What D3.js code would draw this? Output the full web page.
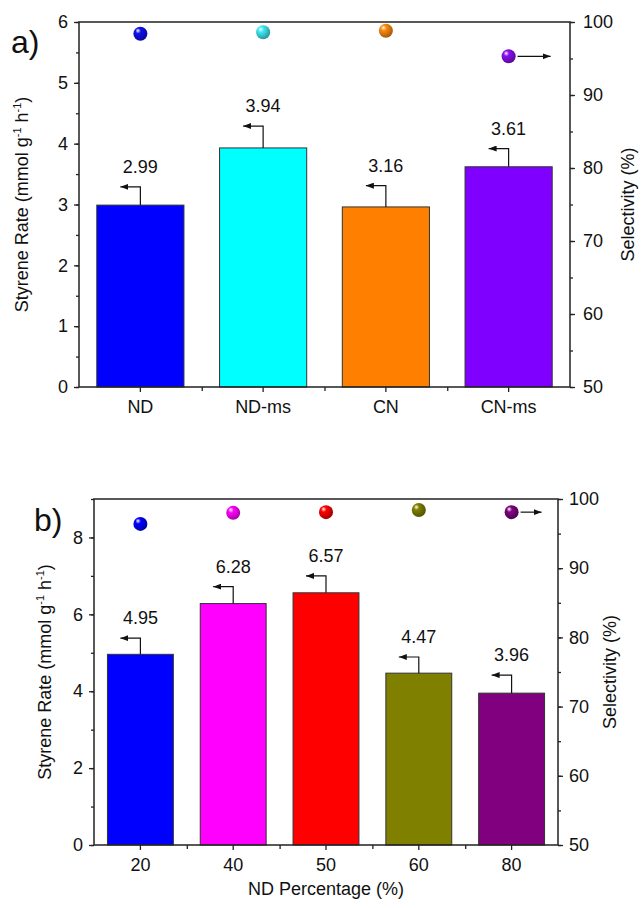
<!DOCTYPE html>
<html>
<head>
<meta charset="utf-8">
<script src="https://cdn.jsdelivr.net/npm/d3@7"></script>
<style>
  body{margin:0;background:#fff}
  text{font-family:"Liberation Sans",Arial,sans-serif;fill:#111}
</style>
</head>
<body>
<script>
// panel a data
const catsA = ["ND","ND-ms","CN","CN-ms"];
const rateA = [2.99, 3.93, 2.96, 3.62];
const rateLabelsA = ["2.99","3.94","3.16","3.61"];
const errA = [0.30, 0.36, 0.35, 0.30];
const selA = [98.4, 98.6, 98.8, 95.3];
const colorsA = ["#0000ff","#00ffff","#ff8000","#8000ff"];
const dotColorsA = ["#1010f0","#40eaf5","#ff8a10","#8a10f0"];
const rateTicksA = [0,1,2,3,4,5,6];

// panel b data
const catsB = ["20","40","50","60","80"];
const rateB = [4.96, 6.28, 6.56, 4.47, 3.95];
const rateLabelsB = ["4.95","6.28","6.57","4.47","3.96"];
const errB = [0.42, 0.44, 0.44, 0.42, 0.47];
const selB = [96.4, 98.0, 98.1, 98.4, 98.1];
const colorsB = ["#0000ff","#ff00ff","#ff0000","#808000","#800080"];
const rateTicksB = [0,2,4,6,8];

const selTicks = [50,60,70,80,90,100];

const w = 641, h = 908;
const svg = d3.select("body").append("svg").attr("width",w).attr("height",h);
const defs = svg.append("defs");

// arrow head used for the small pointers
defs.append("marker")
    .attr("id","arr")
    .attr("viewBox","0 0 8 6")
    .attr("refX",8).attr("refY",3)
    .attr("markerWidth",8).attr("markerHeight",6)
    .attr("markerUnits","userSpaceOnUse")
    .attr("orient","auto")
    .append("path").attr("d","M0,0 L8,3 L0,6 z").attr("fill","#111");

let gradId = 0;
function sphere(color){
    const id = "g"+(gradId++);
    const g = defs.append("radialGradient").attr("id",id)
        .attr("cx","38%").attr("cy","35%").attr("r","65%")
        .attr("fx","32%").attr("fy","28%");
    g.append("stop").attr("offset","0%").attr("stop-color","#ffffff");
    g.append("stop").attr("offset","30%").attr("stop-color",color);
    g.append("stop").attr("offset","100%").attr("stop-color",d3.color(color).darker(1.2));
    return "url(#"+id+")";
}

function drawPanel(p){
    const g = svg.append("g");
    const x = d3.scaleBand().domain(p.cats).range([p.x0,p.x1]).paddingInner(0.29).paddingOuter(0.145);
    const xc = d => x(d) + x.bandwidth()/2;
    const y = d3.scaleLinear().domain([0,p.max]).range([p.y1,p.y0]);
    const ys = d3.scaleLinear().domain([50,100]).range([p.y1,p.y0]);

    // bars
    g.selectAll("rect.bar").data(p.cats).enter().append("rect")
        .attr("x",d=>x(d)).attr("width",x.bandwidth())
        .attr("y",(d,i)=>y(p.rate[i]))
        .attr("height",(d,i)=>p.y1-y(p.rate[i]))
        .attr("fill",(d,i)=>p.colors[i])
        .attr("stroke","#333").attr("stroke-width",1);

    // error bar with left pointing arrow
    g.selectAll("path.err").data(p.cats).enter().append("path")
        .attr("d",(d,i)=>{
            const cx = xc(d), t = y(p.rate[i]), e = y(p.rate[i]+p.err[i]);
            return "M"+cx+","+t+" L"+cx+","+e+" L"+(cx-20)+","+e;
        })
        .attr("fill","none").attr("stroke","#111").attr("stroke-width",1.2)
        .attr("marker-end","url(#arr)");

    g.selectAll("text.val").data(p.cats).enter().append("text")
        .attr("x",d=>xc(d))
        .attr("y",(d,i)=>y(p.rate[i]+p.err[i])-14)
        .attr("text-anchor","middle").attr("font-size",18)
        .text((d,i)=>p.labels[i]);

    // selectivity spheres
    g.selectAll("circle.sel").data(p.cats).enter().append("circle")
        .attr("cx",d=>xc(d)).attr("cy",(d,i)=>ys(p.sel[i])).attr("r",7)
        .attr("fill",(d,i)=>sphere(p.dots[i]));
    const last = p.cats[p.cats.length-1];
    const ly = ys(p.sel[p.sel.length-1]);
    g.append("line")
        .attr("x1",xc(last)+9).attr("x2",xc(last)+p.arrowLen)
        .attr("y1",ly).attr("y2",ly)
        .attr("stroke","#111").attr("stroke-width",1.2)
        .attr("marker-end","url(#arr)");

    // axes
    const left = d3.axisLeft(y).tickValues(p.ticks).tickSize(5).tickPadding(6).tickFormat(d3.format("d"));
    const leftMinor = d3.axisLeft(y).tickValues(d3.range(0,p.max+0.001,p.minor)).tickSize(3).tickFormat("");
    const right = d3.axisRight(ys).tickValues(selTicks).tickSize(5).tickPadding(p.rpad);
    const rightMinor = d3.axisRight(ys).tickValues(d3.range(50,100.1,5)).tickSize(3).tickFormat("");
    const bottom = d3.axisBottom(x).tickSize(5).tickPadding(8);
    const bounds = p.cats.slice(1).map(d=>x(d)-x.step()*x.paddingInner()/2);
    const bottomMinor = d3.axisBottom(d3.scaleLinear().domain([p.x0,p.x1]).range([p.x0,p.x1]))
        .tickValues(bounds).tickSize(4).tickFormat("");

    const ax = (sel)=>{
        sel.selectAll(".domain").attr("stroke","#222").attr("stroke-width",1.5);
        sel.selectAll(".tick line").attr("stroke","#222").attr("stroke-width",1.3);
        sel.selectAll(".tick text").attr("font-size",18).attr("fill","#111")
            .attr("font-family","'Liberation Sans',Arial,sans-serif");
    };
    g.append("g").attr("transform","translate("+p.x0+",0)").call(leftMinor).call(ax);
    g.append("g").attr("transform","translate("+p.x0+",0)").call(left).call(ax);
    g.append("g").attr("transform","translate("+p.x1+",0)").call(rightMinor).call(ax);
    g.append("g").attr("transform","translate("+p.x1+",0)").call(right).call(ax);
    g.append("g").attr("transform","translate(0,"+p.y1+")").call(bottomMinor).call(ax);
    g.append("g").attr("transform","translate(0,"+p.y1+")").call(bottom).call(ax);
    g.selectAll(".domain").attr("d",null);

    // frame lines
    g.append("path")
        .attr("d","M"+p.x0+","+p.y1+" L"+p.x0+","+p.y0+" L"+p.x1+","+p.y0+" L"+p.x1+","+p.y1+" Z")
        .attr("fill","none").attr("stroke","#222").attr("stroke-width",1.5);

    // axis titles
    const t = g.append("text")
        .attr("transform","translate("+p.ylx+","+((p.y0+p.y1)/2)+") rotate(-90)")
        .attr("text-anchor","middle").attr("font-size",18);
    t.append("tspan").text("Styrene Rate (mmol g");
    t.append("tspan").attr("font-size",11).attr("dy",-7).text("-1");
    t.append("tspan").attr("dy",7).text(" h");
    t.append("tspan").attr("font-size",11).attr("dy",-7).text("-1");
    t.append("tspan").attr("dy",7).text(")");

    g.append("text")
        .attr("transform","translate("+p.yrx+","+((p.y0+p.y1)/2)+") rotate(-90)")
        .attr("text-anchor","middle").attr("font-size",18)
        .text("Selectivity (%)");

    if(p.xTitle){
        g.append("text").attr("x",(p.x0+p.x1)/2).attr("y",p.y1+50)
            .attr("text-anchor","middle").attr("font-size",18).text(p.xTitle);
    }

    g.append("text").attr("x",p.tagX).attr("y",p.tagY)
        .attr("font-size",32).text(p.tag);
}

drawPanel({
    cats:catsA, rate:rateA, labels:rateLabelsA, err:errA, sel:selA,
    colors:colorsA, dots:dotColorsA, ticks:rateTicksA,
    max:6, minor:0.5, x0:79, x1:570, y0:22, y1:387, rpad:8,
    ylx:28, yrx:634, arrowLen:42, tag:"a)", tagX:11, tagY:53
});

drawPanel({
    cats:catsB, rate:rateB, labels:rateLabelsB, err:errB, sel:selB,
    colors:colorsB, dots:colorsB, ticks:rateTicksB,
    max:9, minor:1, x0:94, x1:558, y0:499, y1:845, rpad:6,
    ylx:51, yrx:616, arrowLen:30, tag:"b)", tagX:34, tagY:531,
    xTitle:"ND Percentage (%)"
});
</script>
</body>
</html>
